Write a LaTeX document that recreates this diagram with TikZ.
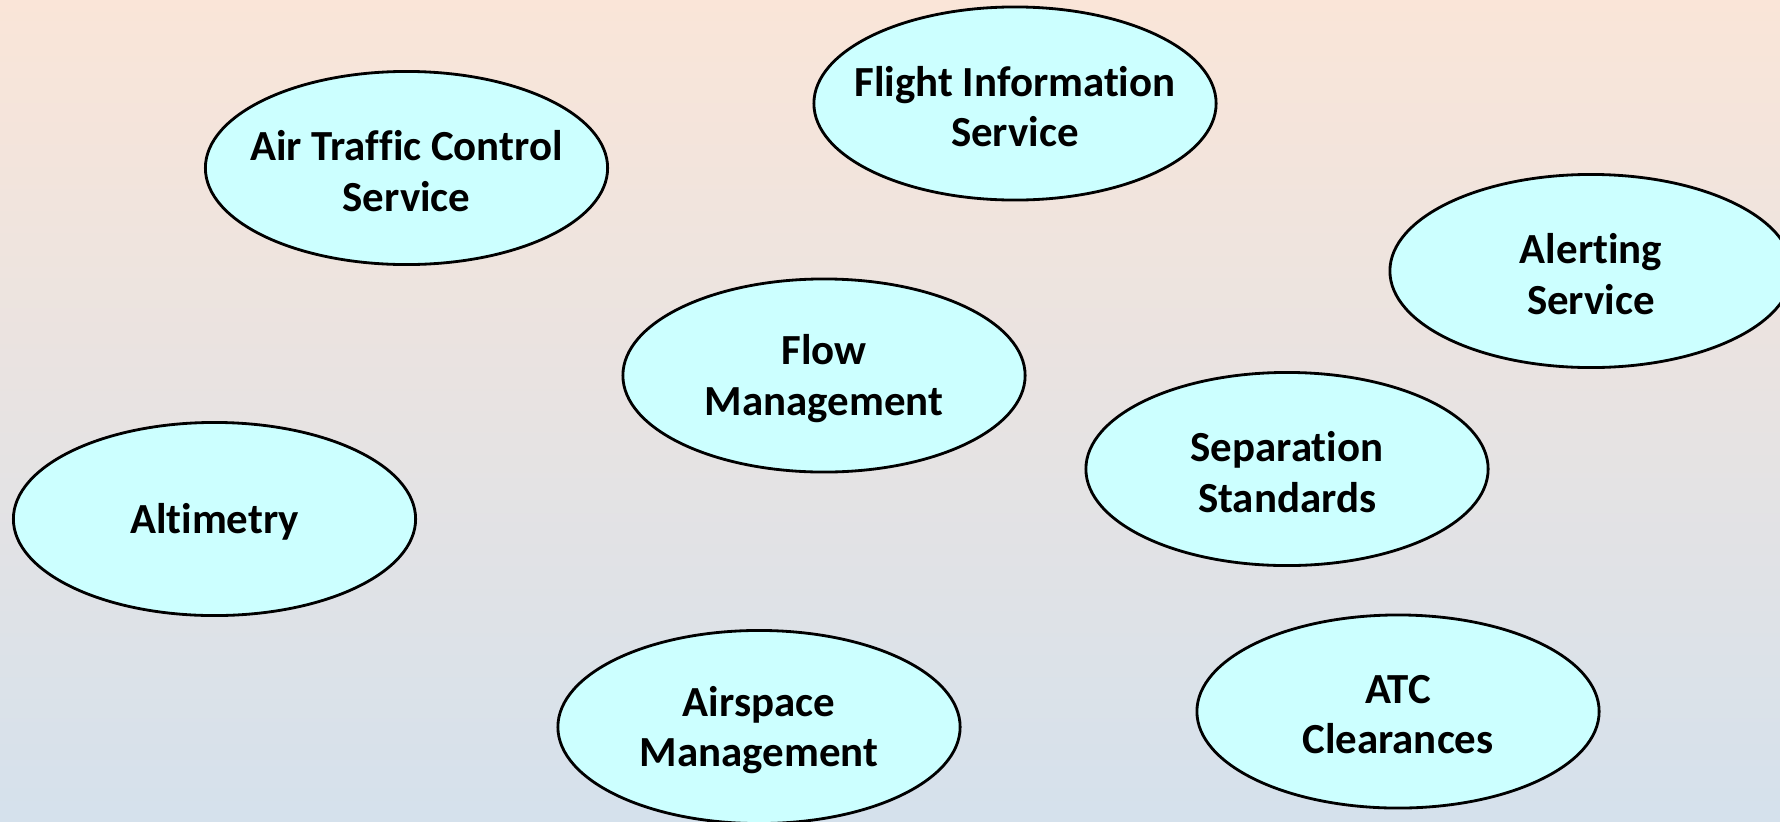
\documentclass[tikz,border=0pt]{standalone}
\usepackage{fontspec}
\setmainfont{Carlito}[Ligatures=NoCommon]
\usetikzlibrary{shapes.geometric}
\definecolor{bgtop}{HTML}{FAE5D8}
\definecolor{bgbot}{HTML}{D5E1EC}
\definecolor{cyanfill}{HTML}{CCFFFF}
\tikzset{
  topiclabel/.style={align=center, inner sep=0pt, yshift=-0.03cm,
    font=\bfseries\fontsize{12.2pt}{14.4pt}\selectfont},
  topic/.style={ellipse, draw=black, line width=0.8pt, fill=cyanfill,
    minimum width=4.02cm, minimum height=1.93cm, inner sep=0pt,
    label={[topiclabel]center:{#1}}}
}
\begin{document}
\begin{tikzpicture}[x=0.01cm,y=-0.01cm]
\useasboundingbox (0,0) rectangle (1780,821);
\shade[top color=bgtop, bottom color=bgbot] (0,0) rectangle (1780,821);
\clip (0,0) rectangle (1780,821);
\node[topic={Air Traffic Control\\Service}] (atcs) at (406.5,168) {};
\node[topic={Flight Information\\Service}] (fis) at (1015,103.5) {};
\node[topic={Alerting\\Service}] (alert) at (1591,271) {};
\node[topic={Flow\\Management}] (flow) at (824,375.5) {};
\node[topic={Separation\\Standards}] (sep) at (1287,469) {};
\node[topic={Altimetry}] (alt) at (214.5,519) {};
\node[topic={Airspace\\Management}] (asm) at (759,727) {};
\node[topic={ATC\\Clearances}] (clr) at (1398,711.5) {};
\end{tikzpicture}
\end{document}
